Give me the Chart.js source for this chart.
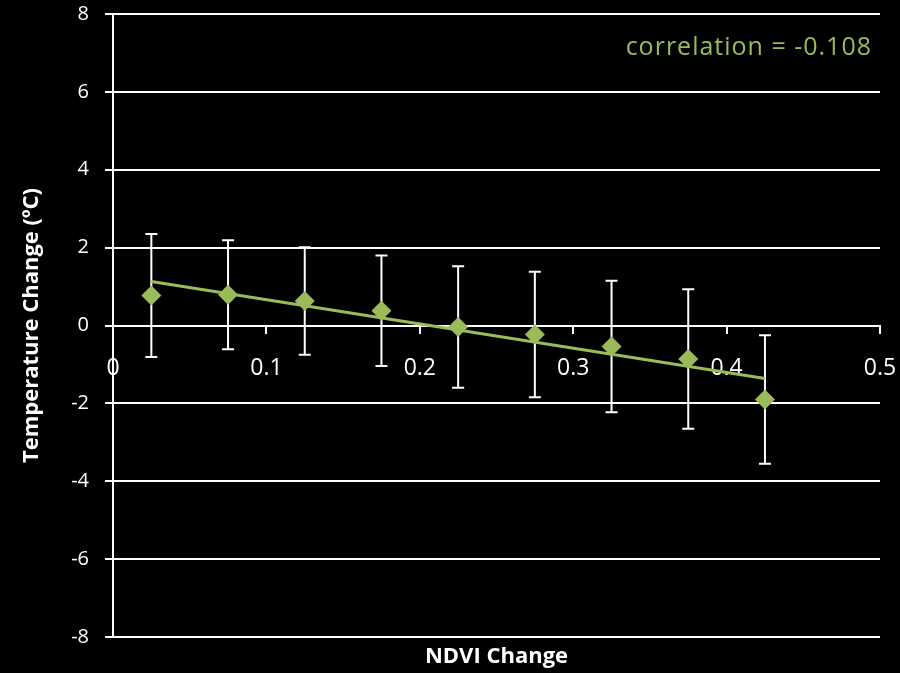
<!DOCTYPE html>
<html lang="en">
<head>
  <meta charset="UTF-8" />
  <title>NDVI Change vs Temperature Change</title>
  <script src="https://cdn.jsdelivr.net/npm/chart.js"></script>
  <style>
    html, body { margin: 0; padding: 0; background: #000; }
    #wrap { width: 900px; height: 673px; position: relative; }
  </style>
</head>
<body>
  <div id="wrap"><canvas id="chart"></canvas></div>

  <script>
    // Data
    const ndviChange = [0.025, 0.075, 0.125, 0.175, 0.225, 0.275, 0.325, 0.375, 0.425];
    const tempChange = [0.77, 0.79, 0.63, 0.38, -0.04, -0.23, -0.54, -0.86, -1.90];
    const tempError  = [1.58, 1.40, 1.38, 1.42, 1.56, 1.61, 1.69, 1.79, 1.65];
    const trendX = [0.025, 0.425];
    const trendY = [1.13, -1.36];
    const xTickValues = [0, 0.1, 0.2, 0.3, 0.4, 0.5];
    const yTickValues = [-8, -6, -4, -2, 0, 2, 4, 6, 8];
    const correlationLabel = 'correlation = -0.108';

    const GREEN = '#9bbb59';
    const FONT = '"Open Sans", Lato, sans-serif';

    // error bars, drawn under the markers
    const errorBars = {
      id: 'errorBars',
      beforeDatasetsDraw(chart) {
        const { ctx, scales: { x, y } } = chart;
        ctx.save();
        ctx.strokeStyle = '#ffffff';
        ctx.lineWidth = 2;
        ndviChange.forEach((v, i) => {
          const px = x.getPixelForValue(v);
          const top = y.getPixelForValue(tempChange[i] + tempError[i]);
          const bot = y.getPixelForValue(tempChange[i] - tempError[i]);
          ctx.beginPath();
          ctx.moveTo(px, top); ctx.lineTo(px, bot);
          ctx.moveTo(px - 6, top); ctx.lineTo(px + 6, top);
          ctx.moveTo(px - 6, bot); ctx.lineTo(px + 6, bot);
          ctx.stroke();
        });
        ctx.restore();
      }
    };

    // correlation text in the upper right corner
    const corrText = {
      id: 'corrText',
      afterDraw(chart) {
        const { ctx, chartArea } = chart;
        ctx.save();
        ctx.fillStyle = GREEN;
        ctx.font = '25px ' + FONT;
        ctx.letterSpacing = '1px';
        ctx.textAlign = 'right';
        ctx.textBaseline = 'middle';
        ctx.fillText(correlationLabel, chartArea.right - 8, chartArea.top + 34);
        ctx.restore();
      }
    };

    // keep the plot box where the reference has it, labels may overhang
    function noOverhang(scale) {
      scale.paddingTop = 0;
      scale.paddingBottom = 0;
      scale.paddingLeft = 0;
      scale.paddingRight = 0;
    }

    new Chart(document.getElementById('chart'), {
      type: 'scatter',
      data: {
        datasets: [
          {
            label: 'Trend',
            type: 'line',
            data: trendX.map((v, i) => ({ x: v, y: trendY[i] })),
            borderColor: GREEN,
            borderWidth: 3,
            pointRadius: 0,
            fill: false
          },
          {
            label: 'Temperature change',
            data: ndviChange.map((v, i) => ({ x: v, y: tempChange[i] })),
            pointStyle: 'rectRot',
            pointRadius: 10,
            pointHoverRadius: 10,
            backgroundColor: GREEN,
            borderColor: GREEN,
            borderWidth: 0
          }
        ]
      },
      options: {
        responsive: true,
        maintainAspectRatio: false,
        animation: false,
        layout: { padding: { top: 14, right: 20, left: 0, bottom: 0 } },
        plugins: {
          legend: { display: false },
          tooltip: { enabled: false }
        },
        scales: {
          x: {
            type: 'linear',
            position: { y: 0 },
            min: 0,
            max: 0.5,
            afterBuildTicks(scale) { scale.ticks = xTickValues.map(v => ({ value: v })); },
            ticks: { color: '#ffffff', font: { family: FONT, size: 23 }, padding: 22 },
            grid: { drawOnChartArea: false, drawTicks: true, tickLength: 7, color: '#ffffff', lineWidth: 2 },
            border: { color: '#ffffff', width: 2 },
            afterFit: noOverhang
          },
          x2: {
            type: 'linear',
            position: 'bottom',
            min: 0,
            max: 0.5,
            ticks: { display: false },
            grid: { display: false },
            border: { display: false },
            title: { display: true, text: 'NDVI Change', color: '#ffffff',
                     font: { family: FONT, size: 22, weight: 'bold' }, padding: { top: 0, bottom: 3 } },
            afterFit(scale) { noOverhang(scale); scale.height = 36; }
          },
          y: {
            type: 'linear',
            position: 'left',
            min: -8,
            max: 8,
            afterBuildTicks(scale) { scale.ticks = yTickValues.map(v => ({ value: v })); },
            ticks: { color: '#ffffff', font: { family: FONT, size: 20 }, padding: 16 },
            grid: { color: '#ffffff', lineWidth: 2, tickLength: 8 },
            border: { color: '#ffffff', width: 2 },
            title: { display: true, text: 'Temperature Change (ºC)', color: '#ffffff',
                     font: { family: FONT, size: 22, weight: 'bold' }, padding: { top: 19, bottom: 0 } },
            afterFit(scale) { noOverhang(scale); scale.width = 113; }
          }
        }
      },
      plugins: [errorBars, corrText]
    });
  </script>
</body>
</html>
